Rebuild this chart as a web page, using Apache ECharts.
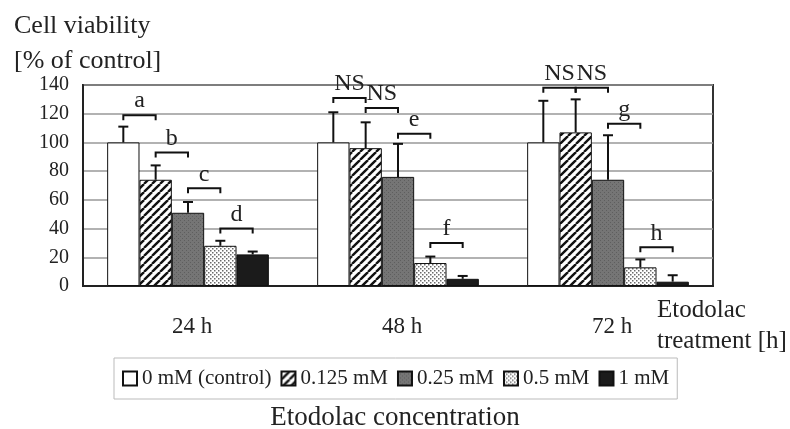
<!DOCTYPE html>
<html>
<head>
<meta charset="utf-8">
<script src="https://cdn.jsdelivr.net/npm/echarts@6/dist/echarts.min.js"></script>
<style>
  html, body { margin: 0; padding: 0; background: #fff; }
  #main { width: 790px; height: 429px; }
</style>
</head>
<body>
<div id="main"></div>
<script>
var categories = ['24 h', '48 h', '72 h'];
var concentrations = ['0 mM (control)', '0.125 mM', '0.25 mM', '0.5 mM', '1 mM'];
var yTicks = [0, 20, 40, 60, 80, 100, 120, 140];

// mean viability per time point
var mean0 = [100, 100, 100];
var mean0125 = [74, 96, 107];
var mean025 = [51, 76, 74];
var mean05 = [28, 16, 13];
var mean1 = [22, 5, 3];

// SD (upper error bars only)
var sd0 = [11, 21, 29];
var sd0125 = [10, 18, 23];
var sd025 = [7.5, 23, 31];
var sd05 = [3.5, 4.5, 5.5];
var sd1 = [2, 2, 4.5];

// significance brackets: [time index, left bar index, level, label]
var brackets = [
  [0, 0, 119, 'a'], [0, 1, 93, 'b'], [0, 2, 68, 'c'], [0, 3, 40, 'd'],
  [1, 0, 131, 'NS'], [1, 1, 124, 'NS'], [1, 2, 106, 'e'], [1, 3, 30, 'f'],
  [2, 0, 138, 'NS'], [2, 1, 138, 'NS'], [2, 2, 113, 'g'], [2, 3, 27, 'h']
];

var means = [mean0, mean0125, mean025, mean05, mean1];
var sds = [sd0, sd0125, sd025, sd05, sd1];

var FONT = 'Liberation Serif';
var GAP = 0.23;

function tile(size, draw) {
  var c = document.createElement('canvas');
  c.width = size; c.height = size;
  draw(c.getContext('2d'), size);
  return { image: c, repeat: 'repeat' };
}

var hatch = tile(8, function (g, s) {
  g.fillStyle = '#fff'; g.fillRect(0, 0, s, s);
  g.strokeStyle = '#111'; g.lineWidth = 2.4;
  [-s, 0, s].forEach(function (o) {
    g.beginPath(); g.moveTo(o, s); g.lineTo(o + s, 0); g.stroke();
  });
});
var grey = tile(4, function (g, s) {
  g.fillStyle = '#757575'; g.fillRect(0, 0, s, s);
  g.fillStyle = '#5e5e5e'; g.fillRect(0, 0, 1, 1); g.fillRect(2, 2, 1, 1);
});
var dots = tile(4, function (g, s) {
  g.fillStyle = '#fff'; g.fillRect(0, 0, s, s);
  g.fillStyle = '#6a6a6a'; g.fillRect(0, 0, 1.5, 1.5); g.fillRect(2, 2, 1.5, 1.5);
});
var fills = ['#ffffff', hatch, grey, dots, '#1b1b1b'];

// centre x of bar j in category i, from the axis band
function barX(api, i, j) {
  var c = api.coord([i, 0])[0];
  var band = api.size([1, 0])[0];
  var w = band * (1 - GAP) / 5;
  return c - band * (1 - GAP) / 2 + (j + 0.5) * w;
}

var errData = [];
means.forEach(function (m, j) {
  m.forEach(function (v, i) { errData.push([i, j, v, sds[j][i]]); });
});

var series = concentrations.map(function (name, j) {
  return {
    name: name,
    type: 'bar',
    data: means[j],
    barGap: '0%',
    barCategoryGap: (GAP * 100) + '%',
    itemStyle: { color: fills[j], borderColor: '#111', borderWidth: 1 }
  };
});

series.push({
  type: 'custom',
  data: errData,
  z: 5,
  renderItem: function (params, api) {
    var i = api.value(0), j = api.value(1);
    var x = barX(api, i, j);
    var y0 = api.coord([i, api.value(2)])[1];
    var y1 = api.coord([i, api.value(2) + api.value(3)])[1];
    var st = { stroke: '#111', lineWidth: 2 };
    return {
      type: 'group',
      children: [
        { type: 'line', shape: { x1: x, y1: y0, x2: x, y2: y1 }, style: st },
        { type: 'line', shape: { x1: x - 5, y1: y1, x2: x + 5, y2: y1 }, style: st }
      ]
    };
  }
});

series.push({
  type: 'custom',
  data: brackets,
  z: 6,
  renderItem: function (params, api) {
    var i = api.value(0), j = api.value(1);
    var xa = barX(api, i, j), xb = barX(api, i, j + 1);
    var y = api.coord([i, api.value(2)])[1];
    return {
      type: 'group',
      children: [
        { type: 'polyline',
          shape: { points: [[xa, y + 5], [xa, y], [xb, y], [xb, y + 5]] },
          style: { stroke: '#111', lineWidth: 2, fill: null } },
        { type: 'text',
          style: { text: brackets[params.dataIndex][3], x: (xa + xb) / 2, y: y - 14,
                   align: 'center', verticalAlign: 'middle',
                   font: '24px "' + FONT + '"', fill: '#222' } }
      ]
    };
  }
});

var myChart = echarts.init(document.getElementById('main'));
var option = {
  backgroundColor: '#fff',
  animation: false,
  title: [
    { text: 'Cell viability\n[% of control]', left: 9, top: 4,
      textStyle: { fontFamily: FONT, fontSize: 26, fontWeight: 'normal', color: '#222', lineHeight: 35 } },
    { text: 'Etodolac\ntreatment [h]', left: 652, top: 290,
      textStyle: { fontFamily: FONT, fontSize: 25, fontWeight: 'normal', color: '#222', lineHeight: 31 } },
    { text: 'Etodolac concentration', left: 'center', top: 399,
      textStyle: { fontFamily: FONT, fontSize: 27, fontWeight: 'normal', color: '#222' } }
  ],
  legend: {
    data: concentrations,
    left: 114,
    top: 358,
    padding: [10, 8],
    itemGap: 9,
    itemWidth: 14,
    itemHeight: 14,
    icon: 'rect',
    borderColor: '#bbb',
    borderWidth: 1,
    textStyle: { fontFamily: FONT, fontSize: 21, color: '#222' }
  },
  grid: { left: 83, right: 77, top: 85, bottom: 143, show: true, borderColor: '#333', borderWidth: 2 },
  xAxis: {
    type: 'category',
    data: categories,
    axisLine: { lineStyle: { color: '#222', width: 2 } },
    axisTick: { inside: true, length: 5, lineStyle: { color: '#666' } },
    axisLabel: { margin: 29, padding: [0, 0, 0, 8], fontFamily: FONT, fontSize: 23, color: '#222' }
  },
  yAxis: {
    type: 'value',
    min: yTicks[0],
    max: yTicks[yTicks.length - 1],
    interval: 20,
    axisLine: { show: true, lineStyle: { color: '#222', width: 2 } },
    axisTick: { show: false },
    axisLabel: { margin: 14, fontFamily: FONT, fontSize: 20, color: '#222' },
    splitLine: { lineStyle: { color: '#999', width: 1.5 } }
  },
  series: series
};
myChart.setOption(option);
</script>
</body>
</html>
